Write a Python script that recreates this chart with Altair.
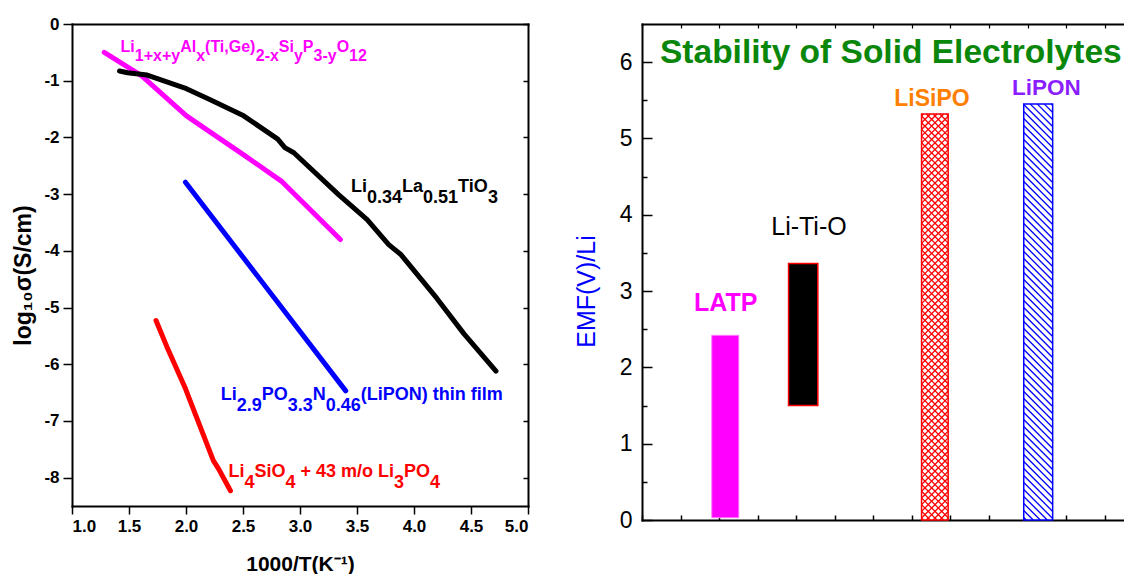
import altair as alt
import pandas as pd

FONT = "Liberation Sans"

# ---------------- left panel: conductivity data ----------------
s_names = ["LATP", "LLTO", "LiPON", "LiSiO"]
s_colors = ["#FF00FF", "#000000", "#0000FF", "#FF0000"]

latp_x = [1.283, 1.612, 2.004, 2.522, 2.836, 3.354]
latp_y = [-0.50, -0.915, -1.62, -2.33, -2.77, -3.80]
llto_x = [1.417, 1.487, 1.659, 2.004, 2.208, 2.506, 2.805, 2.867, 2.946, 3.338,
          3.589, 3.778, 3.887, 4.201, 4.437, 4.719]
llto_y = [-0.83, -0.86, -0.90, -1.14, -1.33, -1.62, -2.03, -2.18, -2.27, -3.01,
          -3.45, -3.89, -4.07, -4.84, -5.46, -6.12]
lipon_x = [1.995, 3.401]
lipon_y = [-2.79, -6.47]
lisio_x = [1.737, 1.832, 1.989, 2.240, 2.287, 2.390]
lisio_y = [-5.23, -5.69, -6.40, -7.70, -7.85, -8.23]

x1_ticks = [1.0, 1.5, 2.0, 2.5, 3.0, 3.5, 4.0, 4.5, 5.0]
y1_ticks = [-8, -7, -6, -5, -4, -3, -2, -1, 0]

# composition labels: (text, is_subscript)
lab_parts = [
    [("Li", 0), ("1+x+y", 1), ("Al", 0), ("x", 1), ("(Ti,Ge)", 0), ("2-x", 1),
     ("Si", 0), ("y", 1), ("P", 0), ("3-y", 1), ("O", 0), ("12", 1)],
    [("Li", 0), ("0.34", 1), ("La", 0), ("0.51", 1), ("TiO", 0), ("3", 1)],
    [("Li", 0), ("2.9", 1), ("PO", 0), ("3.3", 1), ("N", 0), ("0.46", 1),
     ("(LiPON) thin film", 0)],
    [("Li", 0), ("4", 1), ("SiO", 0), ("4", 1), (" + 43 m/o Li", 0), ("3", 1),
     ("PO", 0), ("4", 1)],
]
lab_x = [1.426, 3.447, 2.305, 2.372]
lab_y = [-0.50, -2.968, -6.637, -7.995]
lab_color = ["#FF00FF", "#000000", "#0000FF", "#FF0000"]
lab_size = [16, 18, 18, 18]

# ---------------- right panel: stability data ----------------
bar_names = ["LATP", "Li-Ti-O", "LiSiPO", "LiPON"]
bar_x0 = [1.81, 3.80, 7.25, 9.90]
bar_x1 = [2.51, 4.56, 7.94, 10.65]
bar_lo = [0.03, 1.50, 0.0, 0.0]
bar_hi = [2.42, 3.36, 5.32, 5.45]

y2_major = [0, 1, 2, 3, 4, 5, 6]
y2_minor = [0.5, 1.5, 2.5, 3.5, 4.5, 5.5]
x2_ticks = list(range(0, 13))

rlab_text = ["LATP", "LiSiPO", "LiPON"]
rlab_x = [2.17, 7.52, 10.49]
rlab_y = [2.74, 5.42, 5.57]
rlab_color = ["#FF00FF", "#FF8000", "#8B1EFF"]
rlab_size = [25, 23, 22.5]

# ---------------- helpers ----------------
ABW = {' ': 278, '(': 333, ')': 333, '+': 584, ',': 278, '-': 333, '.': 278, '/': 278,
       'A': 722, 'G': 778, 'L': 611, 'N': 722, 'O': 778, 'P': 667, 'S': 667, 'T': 611,
       'a': 556, 'e': 556, 'f': 333, 'h': 611, 'i': 278, 'l': 278, 'm': 889, 'n': 611,
       'o': 611, 't': 333, 'x': 556, 'y': 556}
for d in "0123456789":
    ABW[d] = 556


def tw(s, f):
    return sum(ABW.get(c, 556) for c in s) * f / 1000.0


LW, LH = 456, 482
XD1, YD1 = [1.0, 5.0], [-8.5, 0.0]
kx1 = LW / (XD1[1] - XD1[0])
ky1 = LH / (YD1[1] - YD1[0])

RW, RH = 482, 496
XD2, YD2 = [0.0, 12.5], [0.0, 6.5]
kx2 = RW / (XD2[1] - XD2[0])
ky2 = RH / (YD2[1] - YD2[0])


def sx1():
    return alt.Scale(domain=XD1, nice=False, zero=False)


def sy1():
    return alt.Scale(domain=YD1, nice=False, zero=False)


def sx2():
    return alt.Scale(domain=XD2, nice=False, zero=False)


def sy2():
    return alt.Scale(domain=YD2, nice=False, zero=False)


def hatch_lines(name, period, back, phase):
    """Hatch strokes (45 degrees on screen) clipped to the bar of the given name."""
    i = bar_names.index(name)
    w = (bar_x1[i] - bar_x0[i]) * kx2
    h = (bar_hi[i] - bar_lo[i]) * ky2
    out = []
    if back:  # "\" strokes: v = u - c
        c = -h + phase
        while c < w:
            u0, u1 = max(0.0, c), min(w, c + h)
            out.append((u0, u0 - c, u1, u1 - c))
            c += period
    else:     # "/" strokes: u + v = c
        c = phase
        while c < w + h:
            u0, u1 = max(0.0, c - h), min(w, c)
            out.append((u0, c - u0, u1, c - u1))
            c += period
    return [{"name": name,
             "xa": bar_x0[i] + a / kx2, "ya": bar_hi[i] - b / ky2,
             "xb": bar_x0[i] + cc / kx2, "yb": bar_hi[i] - d / ky2}
            for a, b, cc, d in out]


# ---------------- left panel ----------------
rows = []
for nm, xs, ys in zip(s_names, [latp_x, llto_x, lipon_x, lisio_x],
                      [latp_y, llto_y, lipon_y, lisio_y]):
    for i, (a, b) in enumerate(zip(xs, ys)):
        rows.append({"series": nm, "order": i, "x": a, "y": b})
df_lines = pd.DataFrame(rows)

seg_rows = []
for parts, ax, ay, col, fs in zip(lab_parts, lab_x, lab_y, lab_color, lab_size):
    off = 0.0
    shift = (0.52 if fs < 17 else 0.58) * fs
    for txt, sub in parts:
        lead = len(txt) - len(txt.lstrip(" "))
        off_t = off + tw(" " * lead, fs)
        seg_rows.append({"t": txt.strip(" "), "x": ax + off_t / kx1,
                         "y": ay - (shift if sub else 0) / ky1, "c": col, "fs": fs})
        off += tw(txt, fs)
df_seg = pd.DataFrame(seg_rows)

lines = alt.Chart(df_lines).mark_line(strokeWidth=5, strokeCap="round", strokeJoin="round").encode(
    x=alt.X("x:Q", scale=sx1(), axis=alt.Axis(
        orient="bottom", values=x1_ticks, format=".1f", labelFontSize=17, labelFontWeight="bold",
        tickSize=8, tickWidth=1.5, labelPadding=4, domain=True, domainWidth=2, domainCap="square",
        title="1000/T(K⁻¹)", titleFontSize=21, titleFontWeight="bold", titlePadding=19)),
    y=alt.Y("y:Q", scale=sy1(), axis=alt.Axis(
        orient="left", values=y1_ticks, labelExpr="'' + datum.value", labelFontSize=17,
        labelFontWeight="bold", tickSize=9, tickWidth=1.5, labelPadding=4, domain=True,
        domainWidth=2, domainCap="square",
        title="log₁₀σ(S/cm)", titleFontSize=23, titleFontWeight="bold",
        titlePadding=8, titleY=251)),
    color=alt.Color("series:N", scale=alt.Scale(domain=s_names, range=s_colors), legend=None),
    order=alt.Order("order:Q"),
)

frame1 = alt.Chart(df_lines).mark_point(opacity=0).encode(
    x=alt.X("x:Q", scale=sx1(), axis=alt.Axis(orient="top", labels=False, ticks=False,
                                               domain=True, domainWidth=2, domainCap="square", title=None)),
    y=alt.Y("y:Q", scale=sy1(), axis=alt.Axis(orient="right", labels=False, ticks=False,
                                               domain=True, domainWidth=2, domainCap="square", title=None)),
)

mirror1 = alt.Chart(df_lines).mark_point(opacity=0).encode(
    x=alt.X("x:Q", scale=sx1(), axis=None),
    y=alt.Y("y:Q", scale=sy1(), axis=alt.Axis(orient="right", values=y1_ticks, labels=False,
                                               domain=False, tickSize=5, tickWidth=1.5,
                                               offset=-5, title=None)),
)

segs = alt.Chart(df_seg).mark_text(align="left", baseline="alphabetic", font=FONT,
                                   fontWeight="bold").encode(
    x=alt.X("x:Q", scale=sx1(), axis=None),
    y=alt.Y("y:Q", scale=sy1(), axis=None),
    text="t:N",
    size=alt.Size("fs:Q", scale=None),
    color=alt.Color("c:N", scale=None),
)

left = alt.layer(lines, frame1, mirror1, segs).resolve_scale(
    x="independent", y="independent").properties(width=LW, height=LH)

# ---------------- right panel ----------------
df_bars = pd.DataFrame({"name": bar_names, "x0": bar_x0, "x1": bar_x1, "lo": bar_lo, "hi": bar_hi})


def inv(xaxis, yaxis):
    return alt.Chart(df_bars).mark_point(opacity=0).encode(
        x=alt.X("x0:Q", scale=sx2(), axis=xaxis),
        y=alt.Y("hi:Q", scale=sy2(), axis=yaxis),
    )


ax_frame = inv(
    alt.Axis(orient="bottom", labels=False, ticks=False, domain=True, domainWidth=2,
             domainCap="square", title=None),
    alt.Axis(orient="left", labels=False, ticks=False, domain=True, domainWidth=2,
             domainCap="square", title=None))
ax_major = inv(
    alt.Axis(orient="bottom", values=x2_ticks, labels=False, domain=False, tickSize=5,
             tickWidth=1.5, offset=-5, title=None),
    alt.Axis(orient="left", values=y2_major, labelFontSize=23, labelFontWeight="normal",
             labelPadding=10, domain=False, tickSize=10, tickWidth=1.5, offset=-10,
             title="EMF(V)/Li", titleColor="#0000FF", titleFontSize=25,
             titleFontWeight="normal", titlePadding=20, titleY=267))
ax_minor = inv(
    alt.Axis(orient="top", labels=False, ticks=False, domain=True, domainWidth=2,
             domainCap="square", title=None),
    alt.Axis(orient="left", values=y2_minor, labels=False, domain=False, tickSize=5,
             tickWidth=1.5, offset=-5, title=None))
ax_top = inv(
    alt.Axis(orient="top", values=x2_ticks, labels=False, domain=False, tickSize=4,
             tickWidth=1.2, offset=-4, title=None),
    None)


def bar_layer(name, **mk):
    return alt.Chart(df_bars).transform_filter(alt.datum.name == name).mark_rect(**mk).encode(
        x=alt.X("x0:Q", scale=sx2(), axis=None), x2="x1:Q",
        y=alt.Y("lo:Q", scale=sy2(), axis=None), y2="hi:Q",
    )


def hatch_layer(df, color):
    return alt.Chart(df).mark_rule(strokeWidth=1.3, color=color).encode(
        x=alt.X("xa:Q", scale=sx2(), axis=None), x2="xb:Q",
        y=alt.Y("ya:Q", scale=sy2(), axis=None), y2="yb:Q",
    )


df_h_sipo = pd.DataFrame(hatch_lines("LiSiPO", 6.7, True, 2.0) + hatch_lines("LiSiPO", 6.7, False, 2.0))
df_h_pon = pd.DataFrame(hatch_lines("LiPON", 7.0, True, 2.5))

b_latp = bar_layer("LATP", fill="#FF00FF", stroke="#FF77FF", strokeWidth=1)
b_lto = bar_layer("Li-Ti-O", fill="#000000", stroke="#FF0000", strokeWidth=1.5)
b_sipo = bar_layer("LiSiPO", fill="#FFFFFF", stroke="#FF0000", strokeWidth=1.5)
b_pon = bar_layer("LiPON", fill="#FFFFFF", stroke="#0000FF", strokeWidth=1.5)
h_sipo = hatch_layer(df_h_sipo, "#FF0000")
h_pon = hatch_layer(df_h_pon, "#0000FF")

df_rlab = pd.DataFrame({"t": rlab_text, "x": rlab_x, "y": rlab_y, "c": rlab_color, "fs": rlab_size})
rlabels = alt.Chart(df_rlab).mark_text(align="center", baseline="alphabetic", font=FONT,
                                       fontWeight="bold").encode(
    x=alt.X("x:Q", scale=sx2(), axis=None),
    y=alt.Y("y:Q", scale=sy2(), axis=None),
    text="t:N",
    size=alt.Size("fs:Q", scale=None),
    color=alt.Color("c:N", scale=None),
)
df_lto = pd.DataFrame({"t": ["Li-Ti-O"], "x": [4.33], "y": [3.74]})
lto_label = alt.Chart(df_lto).mark_text(align="center", baseline="alphabetic", font=FONT,
                                        fontWeight="normal", fontSize=25, color="#000000").encode(
    x=alt.X("x:Q", scale=sx2(), axis=None),
    y=alt.Y("y:Q", scale=sy2(), axis=None),
    text="t:N",
)
df_title = pd.DataFrame({"t": ["Stability of Solid Electrolytes"], "x": [0.467], "y": [5.99]})
title_mark = alt.Chart(df_title).mark_text(align="left", baseline="alphabetic", font=FONT,
                                           fontWeight="bold", fontSize=33.5, color="#0A870A").encode(
    x=alt.X("x:Q", scale=sx2(), axis=None),
    y=alt.Y("y:Q", scale=sy2(), axis=None),
    text="t:N",
)

right = alt.layer(ax_frame, ax_major, ax_minor, ax_top, b_latp, b_lto, b_sipo, h_sipo, b_pon, h_pon,
                  rlabels, lto_label, title_mark).resolve_scale(
    x="independent", y="independent").properties(width=RW, height=RH)

chart = alt.hconcat(left, right, spacing=45).properties(
    padding={"left": 4, "top": 7, "right": 0, "bottom": 0}
).configure(font=FONT).configure_view(strokeWidth=0).configure_axis(
    grid=False, domainColor="#000000", tickColor="#000000", labelColor="#000000",
    titleColor="#000000", labelFont=FONT, titleFont=FONT)

chart.save("out.html", embed_options={"renderer": "svg", "actions": False})
